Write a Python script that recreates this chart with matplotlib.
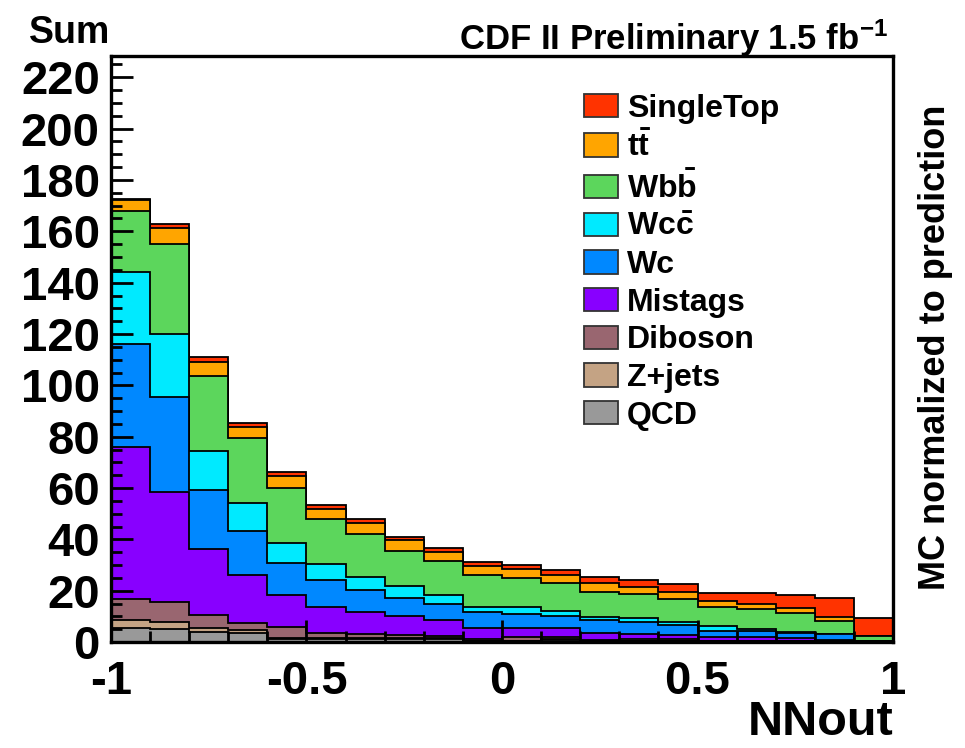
import matplotlib.pyplot as plt
import numpy as np
from matplotlib.patches import Patch
from matplotlib.ticker import MultipleLocator

plt.rcParams['font.family'] = ['Liberation Sans', 'DejaVu Sans']
plt.rcParams['font.weight'] = 'bold'
plt.rcParams['mathtext.fontset'] = 'custom'
plt.rcParams['mathtext.rm'] = 'Liberation Sans:bold'
plt.rcParams['mathtext.bf'] = 'Liberation Sans:bold'
plt.rcParams['mathtext.default'] = 'rm'

edges = np.linspace(-1, 1, 21)

# per-bin yields, bottom of the stack first
qcd      = [5.3, 4.9, 3.8, 3.4, 1.3, 1.3, 1.3, 1.2, 1.1, 0.3, 0.3, 0.8, 0.3, 0.3, 0.3, 0.2, 0.1, 0.1, 0.1, 0.0]
zjets    = [3.3, 3.0, 1.5, 1.3, 0.4, 0.3, 0.3, 0.3, 0.3, 0.2, 0.2, 0.3, 0.2, 0.2, 0.2, 0.1, 0.1, 0.1, 0.0, 0.0]
diboson  = [8.0, 7.8, 5.2, 2.7, 4.3, 1.8, 1.4, 1.2, 1.1, 0.5, 1.3, 1.0, 0.3, 0.5, 0.5, 0.2, 0.1, 0.1, 0.1, 0.0]
mistags  = [59.2, 42.6, 25.6, 18.7, 12.3, 10.4, 8.6, 7.5, 6.1, 4.3, 3.8, 3.2, 2.6, 2.1, 1.7, 1.6, 1.5, 1.1, 0.6, 0.1]
wc       = [40.3, 37.3, 23.0, 17.1, 12.6, 10.4, 8.7, 6.8, 6.2, 6.3, 5.2, 4.8, 5.2, 4.8, 3.9, 2.3, 2.6, 2.2, 2.2, 0.2]
wcc      = [28.2, 24.3, 15.3, 11.1, 7.8, 6.2, 5.1, 4.9, 3.5, 2.2, 2.7, 2.0, 1.3, 1.3, 1.3, 1.9, 0.5, 0.4, 0.3, 0.1]
wbb      = [23.6, 35.0, 29.3, 25.1, 21.2, 17.4, 16.6, 13.7, 13.4, 12.3, 11.3, 10.8, 9.7, 9.4, 8.7, 7.5, 7.8, 7.4, 4.8, 1.8]
ttbar    = [4.3, 6.3, 5.5, 4.5, 4.8, 3.9, 4.5, 4.1, 3.5, 3.6, 3.5, 3.2, 3.3, 2.9, 2.8, 2.3, 2.3, 2.0, 1.8, 0.3]
singletop = [0.3, 1.5, 1.7, 1.5, 1.6, 1.5, 1.4, 1.3, 1.5, 1.6, 1.7, 1.9, 2.3, 2.7, 3.2, 3.1, 4.2, 4.8, 7.2, 7.0]

samples = [qcd, zjets, diboson, mistags, wc, wcc, wbb, ttbar, singletop]
labels = ['QCD', 'Z+jets', 'Diboson', 'Mistags', 'Wc', r'Wc$\bar{c}$', r'Wb$\bar{b}$', r't$\bar{t}$', 'SingleTop']
colors = ['#999999', '#c4a384', '#996670', '#8800ff', '#0088ff', '#00eaff', '#5cd65c', '#ffa500', '#ff3300']

cum = np.cumsum(np.array(samples), axis=0)

fig = plt.figure(figsize=(9.65, 7.48), dpi=100)
ax = fig.add_axes([0.115, 0.1417, 0.8104, 0.7834])

# draw top of stack first, like ROOT THStack
for i in range(len(samples) - 1, -1, -1):
    ax.stairs(cum[i], edges, baseline=0, fill=True, facecolor=colors[i],
              edgecolor='black', linewidth=1.3)

ax.set_xlim(-1, 1)
ax.set_ylim(0, 228.3)

ax.xaxis.set_major_locator(MultipleLocator(0.5))
ax.xaxis.set_minor_locator(MultipleLocator(0.1))
ax.yaxis.set_major_locator(MultipleLocator(20))
ax.yaxis.set_minor_locator(MultipleLocator(5))
ax.set_xticks([-1, -0.5, 0, 0.5, 1])
ax.set_xticklabels(['-1', '-0.5', '0', '0.5', '1'])
ax.tick_params(axis='both', which='major', direction='in', length=16, width=2,
               labelsize=34, pad=8)
ax.tick_params(axis='x', which='major', pad=13)
ax.tick_params(axis='both', which='minor', direction='in', length=8, width=2)
ax.tick_params(top=False, right=False, which='both')
for s in ax.spines.values():
    s.set_linewidth(2.4)

ax.set_xlabel('NNout', fontsize=35, fontweight='bold', loc='right', labelpad=-3)

fig.text(0.1145, 0.9425, 'Sum', fontsize=27, fontweight='bold', ha='right', va='baseline')
fig.text(0.920, 0.933, r'CDF II Preliminary 1.5 fb$^{-1}$', fontsize=25,
         fontweight='bold', ha='right', va='baseline')
fig.text(0.969, 0.536, 'MC normalized to prediction', fontsize=26, fontweight='bold',
         rotation=90, ha='center', va='center')

handles = [Patch(facecolor=colors[i], edgecolor='#333333', linewidth=1.3)
           for i in range(len(samples) - 1, -1, -1)]
ax.legend(handles, labels[::-1], loc='upper left', bbox_to_anchor=(0.605, 0.936),
          frameon=False, fontsize=23, handlelength=1.05, handleheight=0.75,
          handletextpad=0.3, labelspacing=0.24, borderpad=0, borderaxespad=0)

fig.savefig('out.png', dpi=100)
